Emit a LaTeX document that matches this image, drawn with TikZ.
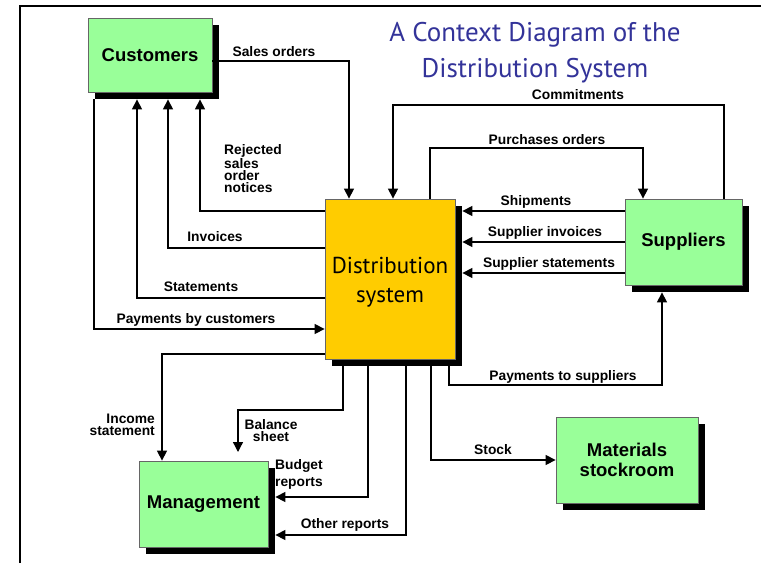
\documentclass[tikz,border=0pt]{standalone}
\usepackage{fontspec}
\setmainfont{Liberation Sans}
\newfontfamily\ptsans{PT Sans}
\usetikzlibrary{arrows.meta,shadows}
\definecolor{entgreen}{HTML}{99FF99}
\definecolor{procyellow}{HTML}{FFCC00}
\definecolor{titleblue}{HTML}{333399}
\tikzset{
    entity/.style={draw=black!60, fill=entgreen, line width=0.8pt, inner sep=0pt, align=center,
        font=\bfseries\fontsize{18.5}{19.5}\selectfont,
        drop shadow={fill=black, opacity=1, shadow xshift=7pt, shadow yshift=-7pt}},
    process/.style={entity, fill=procyellow, font=\ptsans\fontsize{23}{30}\selectfont},
    flow/.style={line width=1.3pt, -{Triangle[length=10pt,width=10pt]}},
    lbl/.style={font=\bfseries\fontsize{13.8}{12.3}\selectfont, inner sep=0pt, align=center}
}
\begin{document}
\begin{tikzpicture}[x=1pt, y=-1pt]
    \useasboundingbox (0,0) rectangle (761,563);
    \draw [line width=2.5pt] (20,563) -- (20,6) -- (761,6);
    \node (title) at (535,52.5) [font=\ptsans\fontsize{27}{36}\selectfont, text=titleblue, align=center] {A Context Diagram of the\\Distribution System};
    % entities
    \node (cust) at (150,55) [entity, minimum width=124pt, minimum height=74pt] {Customers};
    \node (dist) at (390,279) [process, minimum width=130pt, minimum height=160pt] {\raisebox{-23pt}[0pt][0pt]{\shortstack{Distribution\\[11pt]system}}};
    \node (supp) at (683.5,242) [entity, minimum width=117pt, minimum height=86pt] {Suppliers};
    \node (mgmt) at (203.5,504) [entity, minimum width=129pt, minimum height=86pt] {Management};
    \node (mat) at (627,460) [entity, minimum width=142pt, minimum height=86pt] {Materials\\stockroom};
    % shadow edges
    \coordinate (custsh) at ([yshift=-7pt]cust.south);
    \coordinate (distsh) at ([yshift=-7pt]dist.south);
    \coordinate (distshe) at ([xshift=7pt]dist.east);
    \coordinate (suppsh) at ([yshift=-7pt]supp.south);
    \coordinate (mgmtsh) at ([xshift=7pt]mgmt.east);
    % customers
    \coordinate (so) at (349,61);
    \draw [flow] (cust.east |- so) -- (so) -- (so |- dist.north);
    \coordinate (rej) at (200,211);
    \draw [flow] (dist.west |- rej) -- (rej) -- (custsh -| rej);
    \coordinate (inv) at (168,248);
    \draw [flow] (dist.west |- inv) -- (inv) -- (custsh -| inv);
    \coordinate (stm) at (137,298);
    \draw [flow] (dist.west |- stm) -- (stm) -- (custsh -| stm);
    \coordinate (pay) at (94,329);
    \draw [flow] (custsh -| pay) -- (pay) -- (dist.west |- pay);
    \node (so-l) at (274,51.5) [lbl] {Sales orders};
    \node (rej-l) at (224,168.5) [lbl, anchor=west, align=left] {Rejected\\sales\\order\\notices};
    \node (inv-l) at (215,237) [lbl] {Invoices};
    \node (stm-l) at (201,287) [lbl] {Statements};
    \node (pay-l) at (196,319.5) [lbl] {Payments by customers};
    % management
    \coordinate (inc) at (162,354);
    \draw [flow] (dist.west |- inc) -- (inc) -- (mgmt.north -| inc);
    \coordinate (bal1) at (343,410);
    \coordinate (bal2) at (238,410);
    \coordinate (balend) at (238,452);
    \draw [flow] (distsh -| bal1) -- (bal1) -- (bal2) -- (balend);
    \coordinate (bud) at (368,497);
    \draw [flow] (distsh -| bud) -- (bud) -- (mgmtsh |- bud);
    \coordinate (oth) at (406,535);
    \draw [flow] (distsh -| oth) -- (oth) -- (mgmtsh |- oth);
    \node (inc-l) at (155,424.5) [lbl, anchor=east, align=right] {Income\\statement};
    \node (bal-l) at (271,430.5) [lbl] {Balance\\sheet};
    \node (bud-l) at (275,474.5) [lbl, anchor=west, align=left, font=\bfseries\fontsize{13.8}{17}\selectfont] {Budget\\reports};
    \node (oth-l) at (345,525) [lbl] {Other reports};
    % stockroom
    \coordinate (stk) at (431,460);
    \draw [flow] (distsh -| stk) -- (stk) -- (mat.west |- stk);
    \node (stk-l) at (493,449.5) [lbl] {Stock};
    % suppliers
    \coordinate (com1) at (724,105);
    \coordinate (com2) at (393,105);
    \draw [flow] (supp.north -| com1) -- (com1) -- (com2) -- (dist.north -| com2);
    \coordinate (po1) at (430,148);
    \coordinate (po2) at (643,148);
    \draw [flow] (dist.north -| po1) -- (po1) -- (po2) -- (supp.north -| po2);
    \coordinate (shp) at (540,211);
    \draw [flow] (supp.west |- shp) -- (distshe |- shp);
    \coordinate (sinv) at (540,242);
    \draw [flow] (supp.west |- sinv) -- (distshe |- sinv);
    \coordinate (sstm) at (540,273);
    \draw [flow] (supp.west |- sstm) -- (distshe |- sstm);
    \coordinate (pts1) at (449,385);
    \coordinate (pts2) at (662,385);
    \draw [flow] (distsh -| pts1) -- (pts1) -- (pts2) -- (suppsh -| pts2);
    \node (com-l) at (578,95) [lbl] {Commitments};
    \node (po-l) at (547,139.5) [lbl] {Purchases orders};
    \node (shp-l) at (536,201.5) [lbl] {Shipments};
    \node (sinv-l) at (545,232.5) [lbl] {Supplier invoices};
    \node (sstm-l) at (549,263.5) [lbl] {Supplier statements};
    \node (pts-l) at (563,376.5) [lbl] {Payments to suppliers};
\end{tikzpicture}
\end{document}
